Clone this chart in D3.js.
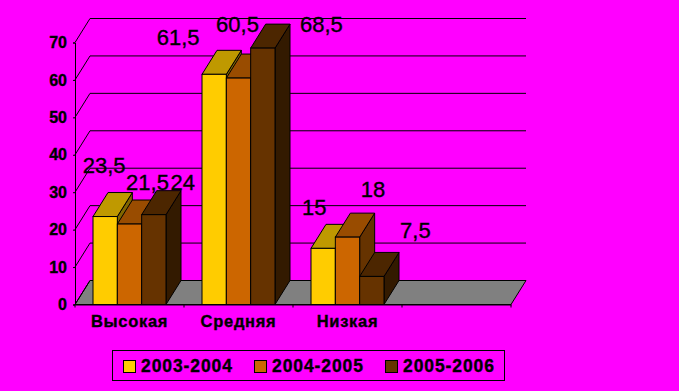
<!DOCTYPE html>
<html><head><meta charset="utf-8">
<script src="https://cdn.jsdelivr.net/npm/d3@7/dist/d3.min.js"></script>
<style>html,body{margin:0;padding:0;background:#f0f;overflow:hidden}svg{display:block}
text{font-family:"Liberation Sans",Arial,sans-serif;fill:#000}</style></head>
<body><div id="c"></div>
<script>
const categories = ["Высокая", "Средняя", "Низкая", ""];
const seriesNames = ["2003-2004", "2004-2005", "2005-2006"];
const values2003 = [23.5, 61.5, 15, null];
const values2004 = [21.5, 60.5, 18, null];
const values2005 = [24, 68.5, 7.5, null];
const labels2003 = ["23,5", "61,5", "15", ""];
const labels2004 = ["21,5", "60,5", "18", ""];
const labels2005 = ["24", "68,5", "7,5", ""];
const yTicks = [0, 10, 20, 30, 40, 50, 60, 70];
const fronts = ["#FFCC00", "#CC6600", "#663300"];
const tops = ["#BF9900", "#994C00", "#4C2600"];
const sides = ["#806600", "#663300", "#331A00"];
// hand-placed data label offsets from each bar's top centre
const nudge2003 = [[-1, -44], [-36, -29], [-9, -33]];
const nudge2004 = [[18, -34], [-1, -46], [25.5, -40]];
const nudge2005 = [[29, -24.5], [58.5, -16], [43.5, -38]];

const W = 679, H = 391;
const depthX = 15, depthY = 24;
const x = d3.scaleBand().domain(categories).range([75, 511]).paddingInner(0).paddingOuter(0);
const y = d3.scaleLinear().domain([0, 70]).range([304.5, 42.5]);
const inner = d3.scaleBand().domain(seriesNames).range([18, x.bandwidth() - 18]);

const svg = d3.select("#c").append("svg").attr("width", W).attr("height", H);
const series = [values2003, values2004, values2005];
const labels = [labels2003, labels2004, labels2005];
const nudges = [nudge2003, nudge2004, nudge2005];
const poly = pts => pts.map(p => p.join(",")).join(" ");

// floor
const y0 = y(0), xL = x.range()[0], xR = x.range()[1];
svg.append("polygon")
  .attr("points", poly([[xL, y0], [xL + depthX, y0 - depthY], [xR + depthX, y0 - depthY], [xR, y0]]))
  .attr("fill", "#808080").attr("stroke", "#000");

// gridlines: back wall and side wall
const grid = svg.append("g").attr("stroke", "#000").attr("fill", "none");
yTicks.forEach(t => {
  if (t > 0) grid.append("line").attr("x1", xL + depthX).attr("x2", xR + depthX)
    .attr("y1", y(t) - depthY).attr("y2", y(t) - depthY);
  grid.append("line").attr("x1", xL).attr("y1", y(t))
    .attr("x2", xL + depthX).attr("y2", y(t) - depthY);
});

// bars
const bars = svg.append("g").attr("stroke", "#000").attr("stroke-linejoin", "miter");
categories.forEach((c, i) => {
  seriesNames.forEach((s, j) => {
    const v = series[j][i];
    if (v == null) return;
    const a = x(c) + inner(s), b = a + inner.bandwidth(), t = y(v), g = bars.append("g");
    g.append("polygon").attr("fill", sides[j])
      .attr("points", poly([[b, t], [b + depthX, t - depthY], [b + depthX, y0 - depthY], [b, y0]]));
    g.append("polygon").attr("fill", tops[j])
      .attr("points", poly([[a, t], [a + depthX, t - depthY], [b + depthX, t - depthY], [b, t]]));
    g.append("rect").attr("fill", fronts[j]).attr("x", a).attr("y", t)
      .attr("width", b - a).attr("height", y0 - t);
  });
});

// axes
const heavy = sel => sel.attr("stroke", "#000").attr("stroke-width", 0.35);
const yAxis = d3.axisLeft(y).tickValues(yTicks).tickSize(2).tickPadding(6);
const gy = svg.append("g").attr("transform", `translate(${xL},0)`).call(yAxis);
gy.selectAll("path,line").attr("stroke", "#000");
gy.selectAll("text").attr("font-size", 16).attr("font-weight", "bold")
  .style("font-family", '"Liberation Sans",Arial,sans-serif').attr("fill", "#000").call(heavy);

const xAxis = d3.axisBottom(x).tickSize(0).tickPadding(11);
const gx = svg.append("g").attr("transform", `translate(0,${y0})`).call(xAxis);
gx.select("path").attr("stroke", "#000");
gx.selectAll("text").attr("font-size", 16.5).attr("font-weight", "bold")
  .style("font-family", '"Liberation Sans",Arial,sans-serif').style("letter-spacing", "0.7px").attr("fill", "#000").call(heavy);
d3.range(categories.length + 1).forEach(k => {
  const px = k < categories.length ? x(categories[k]) : xR;
  gx.append("line").attr("x1", px).attr("x2", px).attr("y1", 0).attr("y2", 3).attr("stroke", "#000");
});

// data labels
categories.forEach((c, i) => seriesNames.forEach((s, j) => {
  const v = series[j][i];
  if (v == null) return;
  svg.append("text").attr("text-anchor", "middle").attr("font-size", 22)
    .attr("x", x(c) + inner(s) + inner.bandwidth() / 2 + nudges[j][i][0])
    .attr("y", y(v) + nudges[j][i][1]).text(labels[j][i]).call(heavy);
}));

// legend
const legend = svg.append("g");
legend.append("rect").attr("x", 112.5).attr("y", 350.5).attr("width", 392).attr("height", 30)
  .attr("fill", "none").attr("stroke", "#000");
const legendX = d3.scalePoint().domain(seriesNames).range([123.5, 385.5]);
seriesNames.forEach((s, j) => {
  legend.append("rect").attr("x", legendX(s)).attr("y", 360.5).attr("width", 12).attr("height", 12)
    .attr("fill", fronts[j]).attr("stroke", "#000");
  legend.append("text").attr("x", legendX(s) + 17.5).attr("y", 372).attr("font-size", 17.5)
    .attr("font-weight", "bold").style("letter-spacing", "0.9px").text(s).call(heavy);
});
</script>
</body></html>
